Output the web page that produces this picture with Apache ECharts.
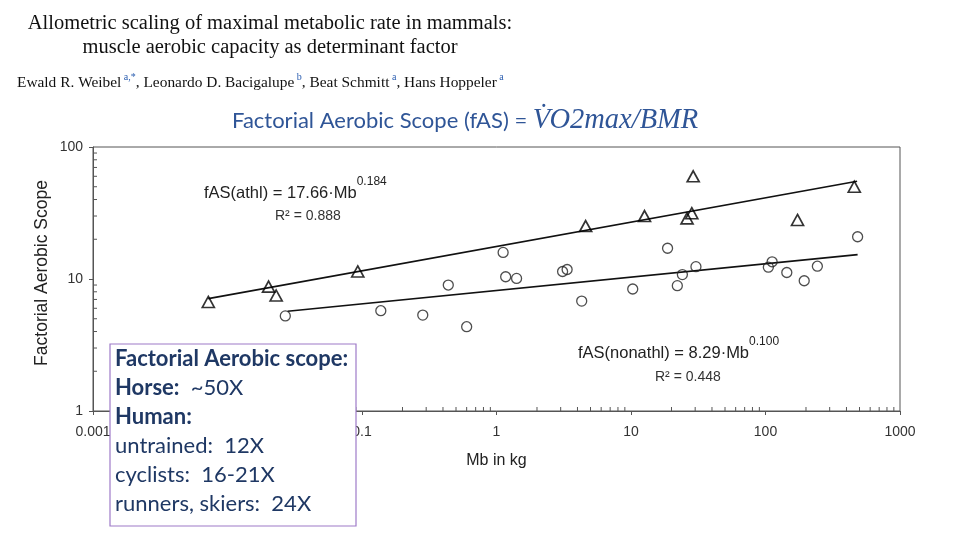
<!DOCTYPE html>
<html>
<head>
<meta charset="utf-8">
<script src="https://cdn.jsdelivr.net/npm/echarts@6/dist/echarts.min.js"></script>
<style>
  html, body { margin: 0; padding: 0; background: #fff; }
  #chart { width: 960px; height: 540px; }
</style>
</head>
<body>
<div id="chart"></div>
<script>
// athletic species (triangles): [body mass kg, factorial aerobic scope]
const athlPoints = [
  [0.0072, 6.7], [0.0202, 8.75], [0.023, 7.5], [0.093, 11.4],
  [4.6, 25.2], [12.6, 30], [29, 60], [28.3, 31.5], [26.1, 28.8],
  [173, 28], [457, 50]
]
// non-athletic species (circles)
const nonathlPoints = [
  [0.0269, 5.25], [0.138, 5.75], [0.283, 5.33], [0.6, 4.35], [0.438, 9.0],
  [1.12, 15.9], [1.17, 10.4], [1.41, 10.1], [3.1, 11.4], [3.35, 11.8],
  [4.3, 6.8], [10.3, 8.4], [18.7, 17.1], [22.1, 8.9], [24.1, 10.8],
  [30.4, 12.4], [105, 12.3], [112, 13.5], [144, 11.2], [194, 9.7],
  [243, 12.5], [484, 20.9]
]
// fitted regression lines, end points
const athlFit = [[0.0072, 7.1], [480, 55]]
const nonathlFit = [[0.028, 5.7], [484, 15.3]]

const xTickLabels = ['0.001', '0.01', '0.1', '1', '10', '100', '1000']
const yTickLabels = ['1', '10', '100']

// log minor ticks 2..9 of every decade
const xMinor = []
for (let e = -3; e < 3; e++) for (let k = 2; k < 10; k++) xMinor.push(k * Math.pow(10, e))
const yMinor = []
for (let e = 0; e < 2; e++) for (let k = 2; k < 10; k++) yMinor.push(k * Math.pow(10, e))

const chart = echarts.init(document.getElementById('chart'))

const axisGrey = '#555'
const sans = '"Liberation Sans", Arial, sans-serif'
const serif = '"Liberation Serif", "Times New Roman", serif'
const calib = 'Lato, "Noto Sans", sans-serif'
const navy = '#1F3864'

const minorTick = horizontal => (params, api) => {
  const p = api.coord([api.value(0), api.value(1)])
  const shape = horizontal
    ? { x1: p[0], y1: p[1], x2: p[0] + 4, y2: p[1] }
    : { x1: p[0], y1: p[1], x2: p[0], y2: p[1] - 4 }
  return { type: 'line', shape, style: { stroke: axisGrey, lineWidth: 1 } }
}

const option = {
  animation: false,
  backgroundColor: '#fff',
  grid: { left: 93, right: 60, top: 147, bottom: 129, show: true, borderColor: axisGrey, borderWidth: 1 },
  xAxis: {
    type: 'log', logBase: 10, min: 0.001, max: 1000, interval: 1,
    name: 'Mb in kg', nameLocation: 'middle', nameGap: 42,
    nameTextStyle: { fontFamily: sans, fontSize: 16, color: '#222' },
    axisLine: { lineStyle: { color: axisGrey } },
    axisTick: { length: 4, lineStyle: { color: axisGrey } },
    axisLabel: {
      fontFamily: sans, fontSize: 14, color: '#333', margin: 14,
      formatter: v => xTickLabels[Math.round(Math.log10(v)) + 3]
    },
    splitLine: { show: false }
  },
  yAxis: {
    type: 'log', logBase: 10, min: 1, max: 100, interval: 1,
    axisLine: { lineStyle: { color: axisGrey } },
    axisTick: { length: 4, lineStyle: { color: axisGrey } },
    axisLabel: {
      fontFamily: sans, fontSize: 14, color: '#333', margin: 10,
      formatter: v => yTickLabels[Math.round(Math.log10(v))]
    },
    splitLine: { show: false }
  },
  series: [
    {
      type: 'line', data: athlFit, symbol: 'none', z: 2,
      lineStyle: { color: '#111', width: 1.6 }
    },
    {
      type: 'line', data: nonathlFit, symbol: 'none', z: 2,
      lineStyle: { color: '#111', width: 1.6 }
    },
    {
      type: 'scatter', data: athlPoints, symbol: 'triangle', symbolSize: [12, 11], z: 3,
      itemStyle: { color: 'rgba(255,255,255,0)', borderColor: '#000', borderWidth: 1.7 }
    },
    {
      type: 'scatter', data: nonathlPoints, symbol: 'circle', symbolSize: 10, z: 3,
      itemStyle: { color: 'rgba(255,255,255,0)', borderColor: '#222', borderWidth: 1.3 }
    },
    {
      // minor ticks on the x axis (inside)
      type: 'custom', silent: true, clip: false, z: 4,
      data: xMinor.map(v => [v, 1]),
      renderItem: minorTick(false)
    },
    {
      // minor ticks on the y axis (inside)
      type: 'custom', silent: true, clip: false, z: 4,
      data: yMinor.map(v => [0.001, v]),
      renderItem: minorTick(true)
    }
  ],
  graphic: [
    {
      type: 'text', x: 270, y: 12, z: 10,
      style: {
        text: 'Allometric scaling of maximal metabolic rate in mammals:\nmuscle aerobic capacity as determinant factor',
        font: '20.5px ' + serif, fill: '#111', align: 'center', lineHeight: 24
      }
    },
    {
      type: 'text', left: 17, top: 72, z: 10,
      style: {
        rich: {
          n: { fontFamily: serif, fontSize: 15.4, fill: '#111', lineHeight: 18, verticalAlign: 'bottom' },
          s: { fontFamily: serif, fontSize: 10, fill: '#2a5db0', lineHeight: 10, verticalAlign: 'top' }
        },
        text: '{n|Ewald R. Weibel}{s| a,*}{n|, Leonardo D. Bacigalupe}{s| b}{n|, Beat Schmitt}{s| a}{n|, Hans Hoppeler}{s| a}'
      }
    },
    {
      type: 'text', left: 232, top: 106, z: 10,
      style: {
        rich: {
          t: { fontFamily: calib, fontSize: 22, fill: '#2F5597', lineHeight: 30 },
          m: { fontFamily: serif, fontStyle: 'italic', fontSize: 28.5, fill: '#2F5597', lineHeight: 30 }
        },
        text: '{t|Factorial Aerobic Scope (fAS) = }{m|V\u0307O2max/BMR}'
      }
    },
    {
      type: 'text', x: 42, y: 273, rotation: Math.PI / 2, z: 10,
      style: {
        text: 'Factorial Aerobic Scope', font: '17.5px ' + sans, fill: '#222',
        align: 'center', verticalAlign: 'middle'
      }
    },
    {
      type: 'text', left: 204, top: 176, z: 10,
      style: {
        rich: {
          a: { fontFamily: sans, fontSize: 16.5, fill: '#222', lineHeight: 26, verticalAlign: 'bottom' },
          s: { fontFamily: sans, fontSize: 12, fill: '#222', lineHeight: 12, verticalAlign: 'top' }
        },
        text: '{a|fAS(athl) = 17.66\u00b7Mb}{s|0.184}'
      }
    },
    {
      type: 'text', left: 275, top: 209, z: 10,
      style: { text: 'R\u00b2 = 0.888', font: '14px ' + sans, fill: '#333' }
    },
    {
      type: 'text', left: 578, top: 336, z: 10,
      style: {
        rich: {
          a: { fontFamily: sans, fontSize: 16.5, fill: '#222', lineHeight: 26, verticalAlign: 'bottom' },
          s: { fontFamily: sans, fontSize: 12, fill: '#222', lineHeight: 12, verticalAlign: 'top' }
        },
        text: '{a|fAS(nonathl) = 8.29\u00b7Mb}{s|0.100}'
      }
    },
    {
      type: 'text', left: 655, top: 370, z: 10,
      style: { text: 'R\u00b2 = 0.448', font: '14px ' + sans, fill: '#333' }
    },
    {
      type: 'rect', z: 20,
      shape: { x: 110, y: 344, width: 246, height: 182 },
      style: { fill: '#fff', stroke: '#9E7BC8', lineWidth: 1.2 }
    },
    {
      type: 'text', left: 115, top: 348, z: 21,
      style: {
        rich: {
          b: { fontFamily: calib, fontWeight: 'bold', fontSize: 22, fill: navy, lineHeight: 29 },
          r: { fontFamily: calib, fontSize: 22, fill: navy, lineHeight: 29 }
        },
        text: '{b|Factorial Aerobic scope:}\n{b|Horse:}{r|  ~50X}\n{b|Human:}\n{r|untrained:  12X}\n{r|cyclists:  16-21X}\n{r|runners, skiers:  24X}'
      }
    }
  ]
}

chart.setOption(option)
</script>
</body>
</html>
